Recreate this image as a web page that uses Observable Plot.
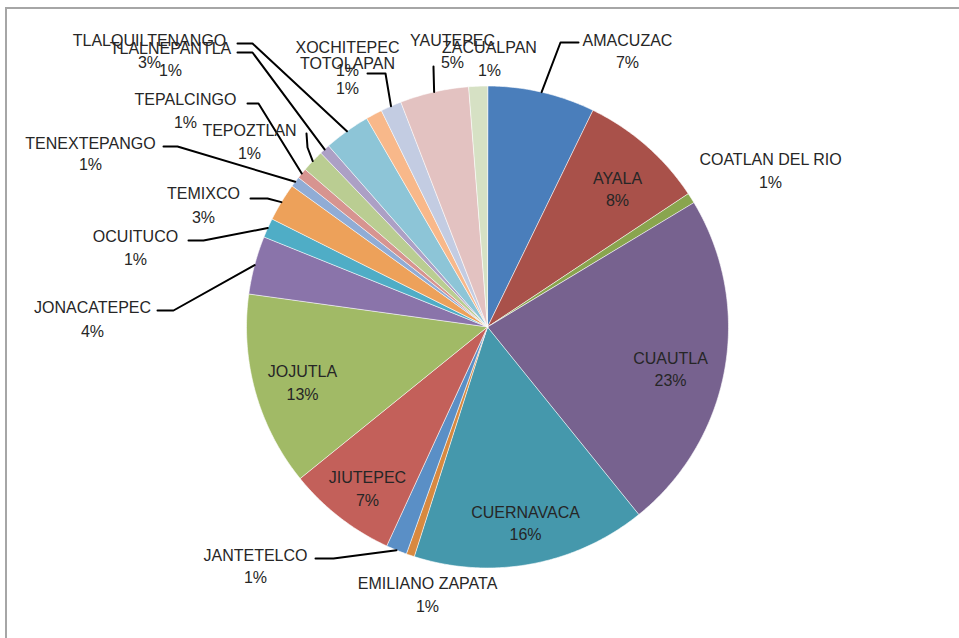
<!DOCTYPE html>
<html>
<head>
<meta charset="utf-8">
<script src="https://cdn.jsdelivr.net/npm/d3@7"></script>
<script src="https://cdn.jsdelivr.net/npm/@observablehq/plot@0.6"></script>
<style>
  body { margin: 0; background: #fff; }
  #wrap { position: relative; width: 959px; height: 638px; overflow: hidden; }
  #frame { position: absolute; left: 5px; top: 7px; width: 1000px; height: 700px;
           border: 2px solid #a6a6a6; box-sizing: border-box; pointer-events: none; }
</style>
</head>
<body>
<div id="wrap"><div id="chart"></div><div id="frame"></div></div>
<script>
// ---- data ----
const municipios = ["AMACUZAC","AYALA","COATLAN DEL RIO","CUAUTLA","CUERNAVACA","EMILIANO ZAPATA",
  "JANTETELCO","JIUTEPEC","JOJUTLA","JONACATEPEC","OCUITUCO","TEMIXCO","TENEXTEPANGO","TEPALCINGO",
  "TEPOZTLAN","TLALNEPANTLA","TLALQUILTENANGO","TOTOLAPAN","XOCHITEPEC","YAUTEPEC","ZACUALPAN"];
const porcentajes = [7.2, 8.45, 0.7, 22.8, 15.7, 0.55, 1.4, 7.3, 13.0, 3.9, 1.3, 2.55, 0.7, 0.7,
  1.49, 0.7, 3.1, 1.1, 1.4, 4.6, 1.25];
const colores = ["#4a7ebb","#a9514a","#89a54e","#77628f","#4598ac","#d8893f","#5a8fc6","#c3605a",
  "#a1ba66","#8a74aa","#4fadc6","#eda15a","#90acd5","#d79490","#bacd92","#aca0c5","#8dc5d7",
  "#f8b88a","#c3cce2","#e3c2c1","#d6e1c4"];

// ---- layout (label placement, leader start/elbow) ----
const cx = 487, cy = 326.5, R = 241;
const etiquetas = {
  "AMACUZAC":        {x: 627, y: 40,  py: 62,  linea: [[578, 42], [560, 42]]},
  "AYALA":           {x: 617, y: 178, py: 200},
  "COATLAN DEL RIO": {x: 770, y: 159, py: 182},
  "CUAUTLA":         {x: 670, y: 358, py: 380},
  "CUERNAVACA":      {x: 525, y: 512, py: 534},
  "EMILIANO ZAPATA": {x: 427, y: 583, py: 606},
  "JANTETELCO":      {x: 255, y: 555, py: 577, linea: [[315, 558], [333, 558]]},
  "JIUTEPEC":        {x: 367, y: 477, py: 500},
  "JOJUTLA":         {x: 302, y: 371, py: 394},
  "JONACATEPEC":     {x: 92,  y: 307, py: 331, linea: [[157, 310], [173, 310]]},
  "OCUITUCO":        {x: 135, y: 236, py: 259, linea: [[188, 240], [203, 240]]},
  "TEMIXCO":         {x: 203, y: 193, py: 217, linea: [[250, 198], [267, 198]]},
  "TENEXTEPANGO":    {x: 90,  y: 143, py: 164, linea: [[163, 146], [177, 146]]},
  "TEPALCINGO":      {x: 185, y: 99,  py: 122, linea: [[247, 103], [258, 103]]},
  "TEPOZTLAN":       {x: 249, y: 130, py: 153, linea: [[306, 133], [307, 147]]},
  "TLALNEPANTLA":    {x: 170, y: 48,  py: 70,  linea: [[237, 52], [252, 52]]},
  "TLALQUILTENANGO": {x: 149, y: 40,  py: 62,  linea: [[237, 43], [252, 43]]},
  "TOTOLAPAN":       {x: 347, y: 63,  py: 88},
  "XOCHITEPEC":      {x: 347, y: 47,  py: 70,  linea: [[367, 73], [385, 73]]},
  "YAUTEPEC":        {x: 452, y: 40,  py: 62,  linea: [[433, 66], [433, 67]]},
  "ZACUALPAN":       {x: 489, y: 47,  py: 70}
};

const datos = municipios.map((name, i) => ({name, valor: porcentajes[i]}));
const total = d3.sum(porcentajes);
const fmt = d3.format(".0%");
const arcs = d3.pie().sort(null).value(d => d.valor)(datos);
const px = a => cx + R * Math.sin(a);
const py = a => cy - R * Math.cos(a);

const puntos = arcs.flatMap(s => {
  const name = s.data.name;
  const n = Math.max(2, Math.ceil((s.endAngle - s.startAngle) / 0.01));
  const pts = [{name, x: cx, y: cy}];
  for (let i = 0; i <= n; i++) {
    const a = s.startAngle + (s.endAngle - s.startAngle) * i / n;
    pts.push({name, x: px(a), y: py(a)});
  }
  return pts;
});

const lineas = arcs.flatMap(s => {
  const e = etiquetas[s.data.name];
  if (!e || !e.linea) return [];
  const m = (s.startAngle + s.endAngle) / 2;
  return [
    {name: s.data.name, x: e.linea[0][0], y: e.linea[0][1]},
    {name: s.data.name, x: e.linea[1][0], y: e.linea[1][1]},
    {name: s.data.name, x: px(m), y: py(m)}
  ];
});

const textos = datos.flatMap(d => {
  const e = etiquetas[d.name];
  return [
    {x: e.x, y: e.y, t: d.name},
    {x: e.x, y: e.py, t: fmt(d.valor / total)}
  ];
});

const chart = Plot.plot({
  width: 959,
  height: 638,
  margin: 0,
  x: {domain: [0, 959], range: [0, 959], axis: null},
  y: {domain: [0, 638], range: [0, 638], axis: null},
  color: {type: "ordinal", domain: municipios, range: colores},
  style: {fontFamily: "'Liberation Sans', Arial, sans-serif", background: "#fff"},
  marks: [
    Plot.line(puntos, {x: "x", y: "y", z: "name", fill: "name", stroke: "#ffffff",
      strokeWidth: 0.6, curve: "linear-closed"}),
    Plot.line(lineas, {x: "x", y: "y", z: "name", stroke: "#000", strokeWidth: 2}),
    Plot.text(textos, {x: "x", y: "y", text: "t", fontSize: 16, fill: "#262626"})
  ]
});
document.getElementById("chart").appendChild(chart);
</script>
</body>
</html>
